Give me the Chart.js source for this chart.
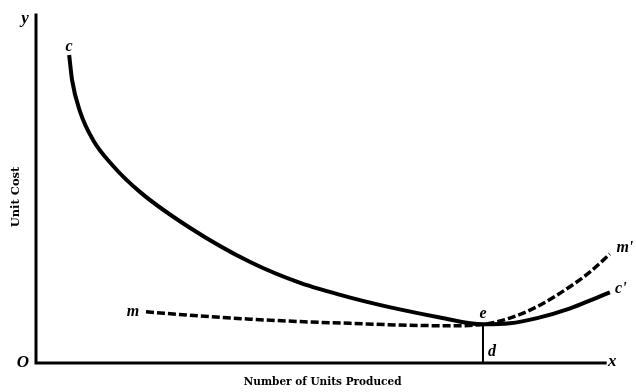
<!DOCTYPE html>
<html>
<head>
<meta charset="utf-8">
<title>Unit Cost</title>
<script src="https://cdn.jsdelivr.net/npm/chart.js@4"></script>
<style>
    html, body { margin: 0; padding: 0; background: #fff; }
    #wrap { width: 636px; height: 392px; position: relative; }
</style>
</head>
<body>
<div id="wrap"><canvas id="costChart"></canvas></div>
<script>
// ================================
// UNIT COST CURVES
// ================================

// solid curve c ... e ... c'
const costX = [5.7, 6.2, 7.6, 9.8, 13.1, 17.9, 26.5, 36.8, 45.4, 54.0, 62.5, 69.4, 76.8, 81.4, 86.1, 91.8, 95.7, 98.6];
const costY = [88.5, 81.3, 72.1, 64.1, 56.9, 49.1, 38.8, 29.0, 23.0, 18.8, 15.4, 13.1, 11.1, 11.4, 12.9, 15.7, 18.3, 20.3];

// dashed curve m ... e ... m'
const dashX = [18.9, 28.2, 36.8, 45.4, 54.0, 62.5, 71.1, 76.8, 81.4, 86.1, 91.8, 95.2, 98.6];
const dashY = [14.7, 13.5, 12.6, 11.9, 11.4, 10.9, 10.7, 11.1, 12.9, 16.2, 22.0, 26.2, 31.3];

// ordinate e-d
const dropX = [76.8, 76.8];
const dropY = [11.1, 0];

// point labels: text, anchor value, pixel nudge
const pointLabels = [
    { text: "c",  x: 5.7,  y: 88.5, dx: 0,  dy: -8 },
    { text: "m",  x: 18.9, y: 14.7, dx: -13, dy: 0 },
    { text: "e",  x: 76.8, y: 11.1, dx: 0,  dy: -11 },
    { text: "d",  x: 76.8, y: 0,    dx: 9,  dy: -11 },
    { text: "m'", x: 98.6, y: 31.3, dx: 15, dy: -6 },
    { text: "c'", x: 98.6, y: 20.3, dx: 11, dy: -3 }
];

const axisEndX = 97.8;
const axisEndY = 100;

const toPoints = (xs, ys) => xs.map((x, i) => ({ x: x, y: ys[i] }));

const SERIF = "'Liberation Serif', 'DejaVu Serif', serif";
const TITLE_FONT = "'DejaVu Serif', serif";

/* ------------------------------
   AXES + LETTERING
------------------------------ */
const lettering = {
    id: "lettering",
    beforeDatasetsDraw(chart) {
        const { ctx, scales } = chart;
        const sx = scales.x, sy = scales.y;
        const x0 = sx.getPixelForValue(0);
        const y0 = sy.getPixelForValue(0);

        ctx.save();
        ctx.strokeStyle = "#000";
        ctx.lineWidth = 3;
        ctx.lineCap = "square";
        ctx.beginPath();
        ctx.moveTo(x0, sy.getPixelForValue(axisEndY));
        ctx.lineTo(x0, y0);
        ctx.lineTo(sx.getPixelForValue(axisEndX), y0);
        ctx.stroke();
        ctx.restore();
    },
    afterDatasetsDraw(chart) {
        const { ctx, scales } = chart;
        const sx = scales.x, sy = scales.y;
        const x0 = sx.getPixelForValue(0);
        const y0 = sy.getPixelForValue(0);

        ctx.save();
        ctx.fillStyle = "#000";
        ctx.textAlign = "center";
        ctx.textBaseline = "middle";

        // axis letters
        ctx.font = "bold italic 17px " + SERIF;
        ctx.fillText("O", x0 - 13, y0);
        ctx.fillText("x", sx.getPixelForValue(axisEndX) + 7, y0 - 1);
        ctx.fillText("y", x0 - 11, sy.getPixelForValue(axisEndY) + 4);

        // curve letters
        ctx.font = "bold italic 16px " + SERIF;
        pointLabels.forEach(p => {
            ctx.fillText(p.text, sx.getPixelForValue(p.x) + p.dx, sy.getPixelForValue(p.y) + p.dy);
        });

        // axis titles
        ctx.font = "bold 10.5px " + TITLE_FONT;
        ctx.fillText("Number of Units Produced", (chart.chartArea.left + sx.getPixelForValue(axisEndX)) / 2 + 2, y0 + 19);

        ctx.save();
        ctx.translate(x0 - 20, (sy.getPixelForValue(axisEndY) + y0) / 2 + 8);
        ctx.rotate(-Math.PI / 2);
        ctx.font = "bold 11.5px " + TITLE_FONT;
        ctx.fillText("Unit Cost", 0, 0);
        ctx.restore();

        ctx.restore();
    }
};

document.addEventListener("DOMContentLoaded", () => {
    const canvas = document.getElementById("costChart");

    new Chart(canvas, {
        type: "line",
        data: {
            datasets: [
                {
                    data: toPoints(costX, costY),
                    borderColor: "#000",
                    borderWidth: 4,
                    cubicInterpolationMode: "monotone",
                    pointRadius: 0,
                    fill: false
                },
                {
                    data: toPoints(dashX, dashY),
                    borderColor: "#000",
                    borderWidth: 3.5,
                    borderDash: [8, 3],
                    cubicInterpolationMode: "monotone",
                    pointRadius: 0,
                    fill: false
                },
                {
                    data: toPoints(dropX, dropY),
                    borderColor: "#000",
                    borderWidth: 2,
                    tension: 0,
                    pointRadius: 0,
                    fill: false
                }
            ]
        },
        options: {
            responsive: true,
            maintainAspectRatio: false,
            animation: false,
            layout: { padding: { left: 36, right: 18, top: 15, bottom: 29 } },
            plugins: {
                legend: { display: false },
                tooltip: { enabled: false }
            },
            scales: {
                x: { type: "linear", min: 0, max: 100, display: false },
                y: { type: "linear", min: 0, max: 100, display: false }
            }
        },
        plugins: [lettering]
    });
});
</script>
</body>
</html>
